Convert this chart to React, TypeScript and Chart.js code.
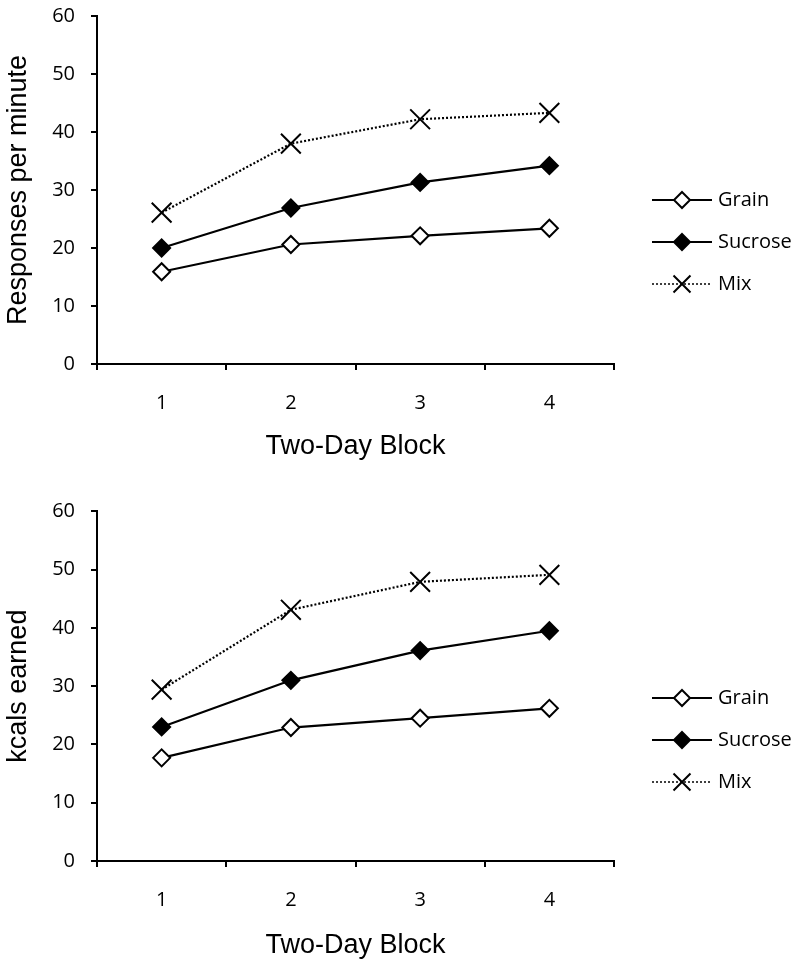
import React, { useEffect, useRef } from "react";
import { Chart, registerables } from "chart.js";

Chart.register(...registerables);

// ---- Data ----
const blocks = ["1", "2", "3", "4"];
const yTicks = [0, 10, 20, 30, 40, 50, 60];
const seriesNames = ["Grain", "Sucrose", "Mix"];

const responsesGrain = [15.9, 20.6, 22.1, 23.4];
const responsesSucrose = [20.0, 26.9, 31.3, 34.2];
const responsesMix = [26.1, 38.0, 42.2, 43.3];

const kcalsGrain = [17.7, 22.9, 24.5, 26.2];
const kcalsSucrose = [23.0, 31.0, 36.1, 39.5];
const kcalsMix = [29.4, 43.1, 47.9, 49.1];

const xTitle = "Two-Day Block";
const topYTitle = "Responses per minute";
const bottomYTitle = "kcals earned";

// ---- Legend plugin (line + marker + label) ----
const lineLegend = {
  id: "lineLegend",
  afterDraw(chart: any, _args: any, opts: any) {
    const ctx = chart.ctx;
    const ds = chart.data.datasets;
    const n = ds.length;
    ds.forEach((d: any, i: number) => {
      const y = opts.centerY + (i - (n - 1) / 2) * opts.spacing;
      const x0 = opts.x;
      const x1 = x0 + opts.lineLength;
      const xm = (x0 + x1) / 2;
      ctx.save();
      ctx.strokeStyle = "#000";
      ctx.lineWidth = d.legendLineWidth;
      ctx.setLineDash(d.borderDash || []);
      ctx.beginPath();
      ctx.moveTo(x0, y);
      ctx.lineTo(x1, y);
      ctx.stroke();
      ctx.setLineDash([]);
      ctx.lineWidth = 2;
      const r = d.legendRadius;
      if (d.pointStyle === "rectRot") {
        ctx.beginPath();
        ctx.moveTo(xm, y - r);
        ctx.lineTo(xm + r, y);
        ctx.lineTo(xm, y + r);
        ctx.lineTo(xm - r, y);
        ctx.closePath();
        ctx.fillStyle = d.pointBackgroundColor;
        ctx.fill();
        ctx.stroke();
      } else {
        const o = r * Math.SQRT1_2;
        ctx.beginPath();
        ctx.moveTo(xm - o, y - o);
        ctx.lineTo(xm + o, y + o);
        ctx.moveTo(xm + o, y - o);
        ctx.lineTo(xm - o, y + o);
        ctx.stroke();
      }
      ctx.fillStyle = "#000";
      ctx.font = "20px 'Open Sans'";
      ctx.textAlign = "left";
      ctx.textBaseline = "middle";
      ctx.fillText(d.label, x1 + 6, y);
      ctx.restore();
    });
  },
};

type PanelLayout = {
  padTop: number;
  xHeight: number;
  xTitlePadBottom: number;
  legendCenter: number;
};

function makeConfig(
  grain: number[],
  sucrose: number[],
  mix: number[],
  yTitle: string,
  L: PanelLayout
): any {
  const values = [grain, sucrose, mix];
  const datasets = values.map((vals, i) => {
    const name = seriesNames[i];
    const isMix = name === "Mix";
    return {
      label: name,
      data: vals,
      borderColor: "#000",
      borderWidth: 2.2,
      borderDash: isMix ? [2, 2] : [],
      tension: 0,
      fill: false,
      pointStyle: isMix ? "crossRot" : "rectRot",
      pointRadius: isMix ? 14 : 8.5,
      pointHoverRadius: isMix ? 14 : 8.5,
      pointBorderWidth: 2,
      pointBorderColor: "#000",
      pointBackgroundColor: name === "Sucrose" ? "#000" : "#fff",
      legendLineWidth: isMix ? 1.5 : 2,
      legendRadius: isMix ? 12 : 8,
    };
  });
  return {
    type: "line",
    data: { labels: blocks, datasets },
    options: {
      responsive: false,
      animation: false,
      layout: { padding: { top: L.padTop, right: 186, left: 0, bottom: 0 } },
      plugins: {
        legend: { display: false },
        tooltip: { enabled: false },
        lineLegend: { x: 652, centerY: L.legendCenter, spacing: 42, lineLength: 60 },
      },
      scales: {
        x: {
          type: "category",
          offset: true,
          grid: {
            offset: true,
            drawOnChartArea: false,
            drawTicks: true,
            tickLength: 6,
            lineWidth: 2,
            color: "#000",
          },
          border: { display: true, color: "#000", width: 2 },
          ticks: {
            color: "#000",
            font: { family: "'Open Sans'", size: 20 },
            padding: 21,
            maxRotation: 0,
          },
          title: {
            display: true,
            text: xTitle,
            color: "#000",
            font: { family: "'Liberation Sans'", size: 27 },
            padding: { top: 0, bottom: L.xTitlePadBottom },
          },
          afterFit: (s: any) => {
            s.height = L.xHeight;
            s.paddingLeft = 0;
            s.paddingRight = 0;
          },
        },
        y: {
          min: 0,
          max: 60,
          afterBuildTicks: (s: any) => {
            s.ticks = yTicks.map((v) => ({ value: v }));
          },
          grid: {
            drawOnChartArea: false,
            drawTicks: true,
            tickLength: 6,
            lineWidth: 2,
            color: "#000",
          },
          border: { display: true, color: "#000", width: 2 },
          ticks: {
            color: "#000",
            font: { family: "'Open Sans'", size: 20 },
            padding: 16,
          },
          title: {
            display: true,
            text: yTitle,
            color: "#000",
            font: { family: "'Liberation Sans'", size: 27 },
            padding: { top: 2, bottom: 0 },
          },
          afterFit: (s: any) => {
            s.width = 97;
            s.paddingTop = 0;
            s.paddingBottom = 0;
          },
        },
      },
    },
    plugins: [lineLegend],
  };
}

function Panel(props: { config: () => any; top: number }) {
  const ref = useRef<HTMLCanvasElement | null>(null);
  useEffect(() => {
    if (!ref.current) return;
    const chart = new Chart(ref.current, props.config());
    return () => chart.destroy();
  }, []);
  return (
    <canvas
      ref={ref}
      width={800}
      height={486}
      style={{ position: "absolute", left: 0, top: props.top, width: 800, height: 486, display: "block" }}
    />
  );
}

export default function App() {
  return (
    <div style={{ position: "absolute", left: 0, top: 0, width: 800, height: 972, background: "#fff" }}>
      <Panel
        top={0}
        config={() =>
          makeConfig(responsesGrain, responsesSucrose, responsesMix, topYTitle, {
            padTop: 14,
            xHeight: 122,
            xTitlePadBottom: 22.8,
            legendCenter: 242,
          })
        }
      />
      <Panel
        top={486}
        config={() =>
          makeConfig(kcalsGrain, kcalsSucrose, kcalsMix, bottomYTitle, {
            padTop: 25.3,
            xHeight: 111,
            xTitlePadBottom: 10.5,
            legendCenter: 254,
          })
        }
      />
    </div>
  );
}
